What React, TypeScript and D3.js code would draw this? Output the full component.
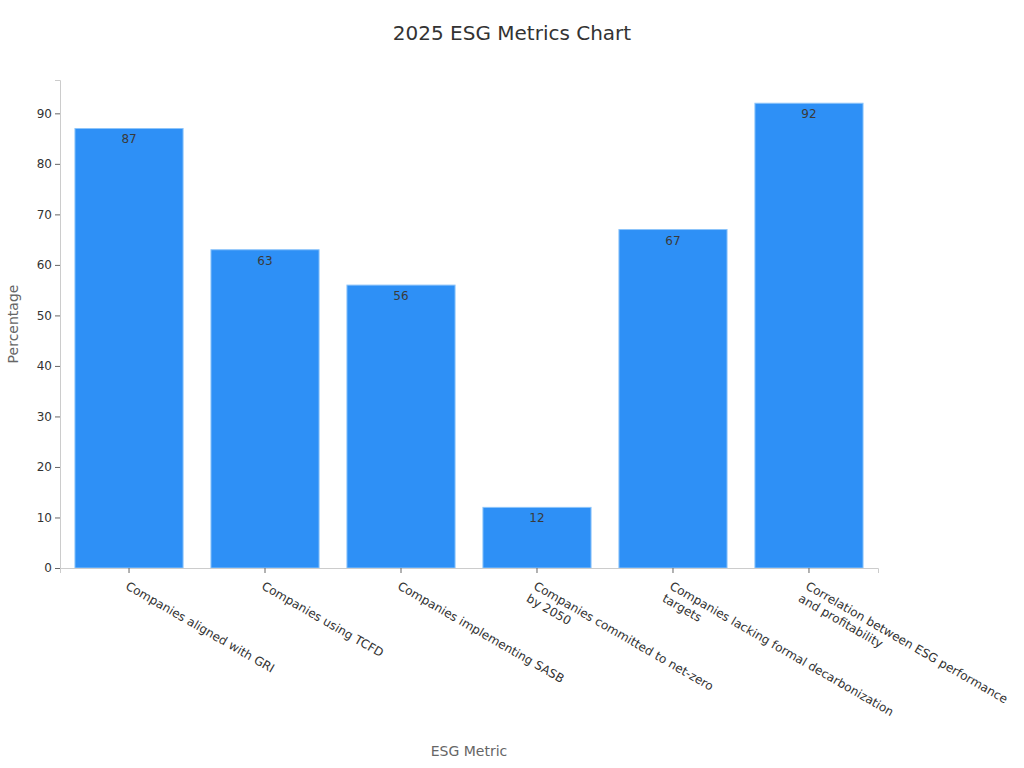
import { useRef, useEffect } from 'react';
import * as d3 from 'd3';

const TITLE = '2025 ESG Metrics Chart';
const X_LABEL = 'ESG Metric';
const Y_LABEL = 'Percentage';

// category labels, already split into lines as drawn
const categories: string[][] = [
  ['Companies aligned with GRI'],
  ['Companies using TCFD'],
  ['Companies implementing SASB'],
  ['Companies committed to net-zero', 'by 2050'],
  ['Companies lacking formal decarbonization', 'targets'],
  ['Correlation between ESG performance', 'and profitability'],
];
const values = [87, 63, 56, 12, 67, 92];
const yTicks = [0, 10, 20, 30, 40, 50, 60, 70, 80, 90];

const WIDTH = 1024;
const HEIGHT = 768;
const FONT = '"DejaVu Sans", sans-serif';

export default function App() {
  const svgRef = useRef<SVGSVGElement>(null);

  useEffect(() => {
    const svg = d3.select(svgRef.current);
    svg.selectAll('*').remove();

    const margin = { top: 80, right: 146, bottom: 200, left: 60 };
    const innerW = WIDTH - margin.left - margin.right;
    const innerH = HEIGHT - margin.top - margin.bottom;

    const keys = categories.map((c) => c.join(' '));
    const x = d3.scaleBand().domain(keys).range([0, innerW]).paddingInner(0.205).paddingOuter(0.11);
    const y = d3.scaleLinear().domain([0, d3.max(values)! * 1.05]).range([innerH, 0]);

    // title
    svg.append('text')
      .attr('x', WIDTH / 2).attr('y', 40)
      .attr('text-anchor', 'middle')
      .attr('font-family', FONT).attr('font-size', 20)
      .attr('fill', '#333')
      .text(TITLE);

    const g = svg.append('g').attr('transform', `translate(${margin.left},${margin.top})`);

    // y axis
    const yAxis = g.append('g').call(d3.axisLeft(y).tickValues(yTicks).tickSize(5).tickPadding(3));
    yAxis.select('.domain').attr('stroke', '#ccc');
    yAxis.selectAll('.tick line').attr('stroke', '#666');
    yAxis.selectAll('.tick text')
      .attr('font-family', FONT).attr('font-size', 12).attr('fill', '#333');

    // bars
    g.selectAll('rect.bar')
      .data(values)
      .join('rect')
      .attr('class', 'bar')
      .attr('x', (_, i) => x(keys[i])!)
      .attr('y', (d) => y(d))
      .attr('width', x.bandwidth())
      .attr('height', (d) => innerH - y(d))
      .attr('fill', '#2e90f6')
      .attr('stroke', '#8cc4fa')
      .attr('stroke-width', 1);

    // value labels
    g.selectAll('text.val')
      .data(values)
      .join('text')
      .attr('class', 'val')
      .attr('x', (_, i) => x(keys[i])! + x.bandwidth() / 2)
      .attr('y', (d) => y(d) + 15)
      .attr('text-anchor', 'middle')
      .attr('font-family', FONT).attr('font-size', 12)
      .attr('fill', '#3a3a3a')
      .text((d) => d);

    // x axis
    const xAxis = g.append('g')
      .attr('transform', `translate(0,${innerH})`)
      .call(d3.axisBottom(x).tickSize(5).tickFormat(() => ''));
    xAxis.select('.domain').attr('stroke', '#ccc');
    xAxis.selectAll('.tick line').attr('stroke', '#666');

    categories.forEach((lines, i) => {
      const cx = x(keys[i])! + x.bandwidth() / 2;
      const t = g.append('text')
        .attr('transform', `translate(${cx},${innerH + 13}) rotate(30)`)
        .attr('text-anchor', 'start')
        .attr('font-family', FONT).attr('font-size', 12)
        .attr('fill', '#333');
      lines.forEach((line, j) => {
        t.append('tspan')
          .attr('x', 0)
          .attr('dy', j === 0 ? '0.71em' : '1.2em')
          .text(line);
      });
    });

    // axis titles
    svg.append('text')
      .attr('x', margin.left + innerW / 2).attr('y', 756)
      .attr('text-anchor', 'middle')
      .attr('font-family', FONT).attr('font-size', 14)
      .attr('fill', '#666')
      .text(X_LABEL);

    svg.append('text')
      .attr('transform', `translate(18,${margin.top + innerH / 2}) rotate(-90)`)
      .attr('text-anchor', 'middle')
      .attr('font-family', FONT).attr('font-size', 14)
      .attr('fill', '#666')
      .text(Y_LABEL);
  }, []);

  return (
    <svg
      ref={svgRef}
      width={WIDTH}
      height={HEIGHT}
      style={{ position: 'absolute', left: 0, top: 0, background: '#fff' }}
    />
  );
}
